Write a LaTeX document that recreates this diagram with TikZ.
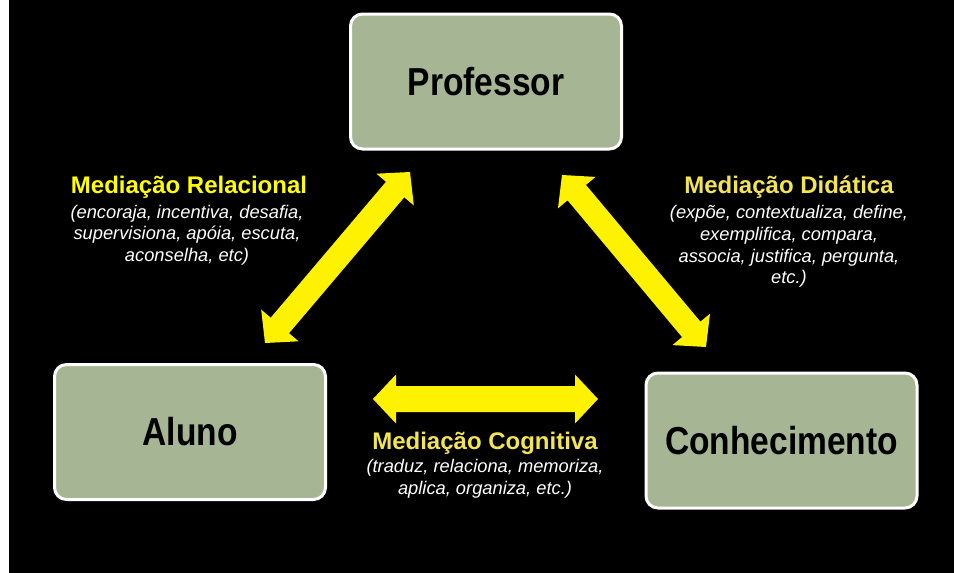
\documentclass[tikz,border=0pt]{standalone}
\usepackage{fontspec}
\setmainfont{Liberation Sans}
\newfontfamily\boxfont[FakeStretch=0.86]{Liberation Sans}
\usetikzlibrary{calc}
\definecolor{boxgreen}{RGB}{166,181,147}
\definecolor{ttlA}{RGB}{255,255,0}
\definecolor{ttlB}{RGB}{242,228,82}
\tikzset{
  box/.style={draw=white, line width=3pt, fill=boxgreen, rounded corners=12pt,
    minimum width=271pt, minimum height=135pt, inner sep=0pt, text=black,
    font=\boxfont\bfseries\fontsize{39}{47}\selectfont},
  ttl/.style={anchor=base, inner sep=0pt, font=\bfseries\fontsize{24}{28}\selectfont},
  desc/.style={anchor=base, inner sep=0pt, text=white, font=\itshape\fontsize{18.3}{22}\selectfont},
  arrowfill/.style={fill=yellow, draw=none}
}
% #1, #2: end points; #3: half-width of the shaft
\newcommand{\dblarr}[3]{%
  \coordinate (p1) at ($(#1)!23pt!(#2)$);
  \coordinate (p2) at ($(#2)!23pt!(#1)$);
  \path[arrowfill] (#1)
    -- ($(p1)!24.5pt!90:(#2)$) -- ($(p1)!#3!90:(#2)$)
    -- ($(p2)!#3!-90:(#1)$) -- ($(p2)!24.5pt!-90:(#1)$)
    -- (#2)
    -- ($(p2)!24.5pt!90:(#1)$) -- ($(p2)!#3!90:(#1)$)
    -- ($(p1)!#3!-90:(#2)$) -- ($(p1)!24.5pt!-90:(#2)$)
    -- cycle;}
\begin{document}
\begin{tikzpicture}[x=1pt,y=-1pt]
  \fill[white] (0,0) rectangle (954,573);
  \fill[black] (9,0) rectangle (954,573);
  \useasboundingbox (0,0) rectangle (954,573);

  \node[box] (prof) at (486,81.5) {Professor};
  \node[box] (aluno) at (190,432) {Aluno};
  \node[box] (conh) at (781.5,440.5) {Conhecimento};

  % arrow end points
  \coordinate (rl1) at (265,343);
  \coordinate (rl2) at (410,172);
  \coordinate (dd1) at (562,175);
  \coordinate (dd2) at (706,347);
  \coordinate (cg1) at (373,399);
  \coordinate (cg2) at (598,399);
  \dblarr{rl1}{rl2}{12pt}
  \dblarr{dd1}{dd2}{12pt}
  \dblarr{cg1}{cg2}{13pt}

  % Mediacao Relacional
  \node[ttl, text=ttlA] (t1) at (189,193) {Mediação Relacional};
  \node[desc] (d1a) at (187,218) {(encoraja, incentiva, desafia,};
  \node[desc] (d1b) at (187,239.5) {supervisiona, apóia, escuta,};
  \node[desc] (d1c) at (187,261) {aconselha, etc)};

  % Mediacao Didatica
  \node[ttl, text=ttlB] (t2) at (789,193) {Mediação Didática};
  \node[desc] (d2a) at (789,218) {(expõe, contextualiza, define,};
  \node[desc] (d2b) at (789,240) {exemplifica, compara,};
  \node[desc] (d2c) at (789,262) {associa, justifica, pergunta,};
  \node[desc] (d2d) at (789,283) {etc.)};

  % Mediacao Cognitiva
  \node[ttl, text=ttlB] (t3) at (485,449) {Mediação Cognitiva};
  \node[desc] (d3a) at (485,472) {(traduz, relaciona, memoriza,};
  \node[desc] (d3b) at (485,494) {aplica, organiza, etc.)};
\end{tikzpicture}
\end{document}
